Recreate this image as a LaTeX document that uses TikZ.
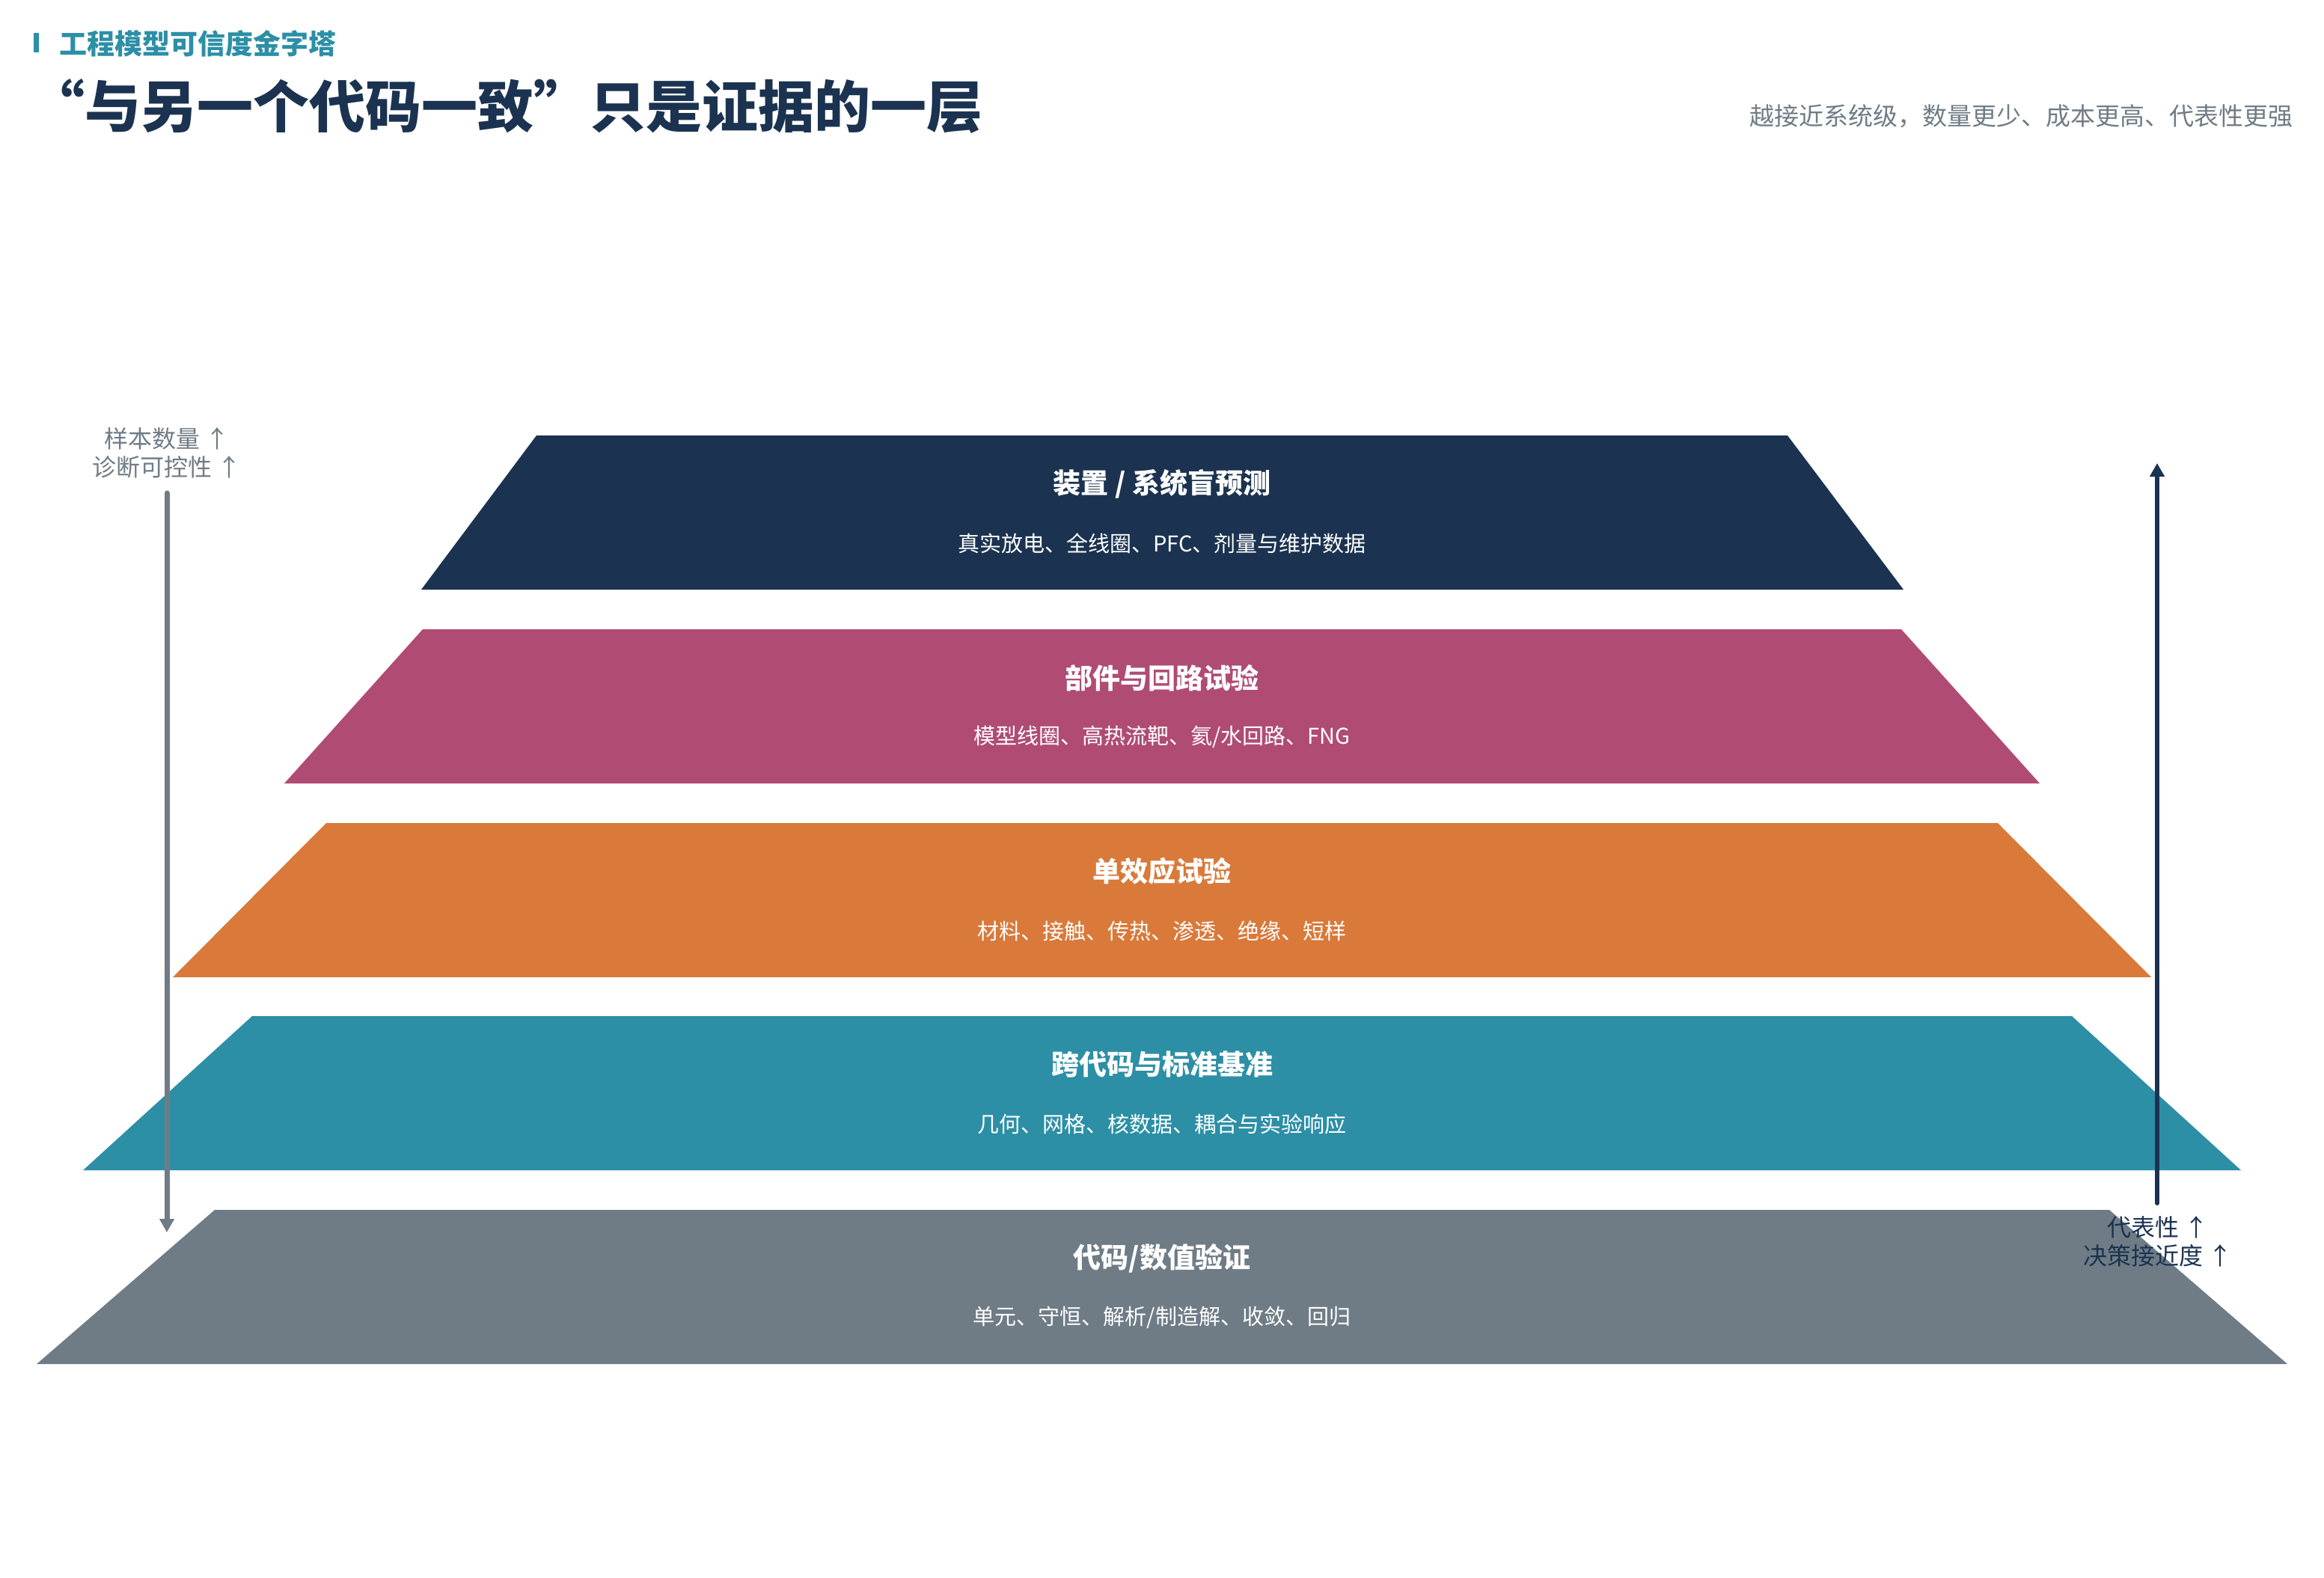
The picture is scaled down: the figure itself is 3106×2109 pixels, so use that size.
\documentclass[tikz,border=0pt]{standalone}
\usepackage{fontspec}
\setmainfont{Noto Sans CJK SC}
\usetikzlibrary{arrows.meta}
\definecolor{cnavy}{HTML}{1B3350}
\definecolor{cmag}{HTML}{B04B74}
\definecolor{corange}{HTML}{D9793A}
\definecolor{cteal}{HTML}{2C8FA6}
\definecolor{cgray}{HTML}{6F7C86}
\tikzset{
  tiertitle/.style={text=white,font=\fontsize{18.5}{22}\selectfont\bfseries,inner sep=0pt},
  tiersub/.style={text=white,font=\fontsize{14.5}{18}\selectfont,inner sep=0pt},
  sidelabel/.style={align=center,font=\fontsize{16}{19}\selectfont,inner sep=0pt},
  axisarrow/.style={line width=3.5pt,line cap=round,-{Triangle[width=9.5pt,length=9pt]}}
}
\begin{document}
\begin{tikzpicture}[x=0.5pt,y=-0.5pt]
\useasboundingbox (0,0) rectangle (3106,2109);
% header
\fill[cteal] (45,44) rectangle (52,70);
\node[anchor=west,text=cteal,font=\fontsize{18.5}{22}\selectfont\bfseries,inner sep=0pt] (kicker) at (79,58) {工程模型可信度金字塔};
\node[anchor=west,text=cnavy,font=\fontsize{37.5}{44}\selectfont\bfseries,inner sep=0pt] (title) at (38,142) {“与另一个代码一致”只是证据的一层};
\node[anchor=east,text=cgray,font=\fontsize{16.5}{20}\selectfont,inner sep=0pt] (note) at (3065,155) {越接近系统级，数量更少、成本更高、代表性更强};
% tiers
\fill[cnavy] (717,582) -- (2389,582) -- (2544,788) -- (563,788) -- cycle;
\fill[cmag] (565,841) -- (2541,841) -- (2726,1047) -- (380,1047) -- cycle;
\fill[corange] (436,1100) -- (2670,1100) -- (2875,1306) -- (231,1306) -- cycle;
\fill[cteal] (337,1358) -- (2769,1358) -- (2995,1564) -- (111,1564) -- cycle;
\fill[cgray] (287,1617) -- (2819,1617) -- (3057,1823) -- (49,1823) -- cycle;
% tier texts
\node[tiertitle] (t1) at (1553,647) {装置 / 系统盲预测};
\node[tiersub] (s1) at (1553,726) {真实放电、全线圈、PFC、剂量与维护数据};
\node[tiertitle] (t2) at (1553,906) {部件与回路试验};
\node[tiersub] (s2) at (1553,985) {模型线圈、高热流靶、氦/水回路、FNG};
\node[tiertitle] (t3) at (1553,1164) {单效应试验};
\node[tiersub] (s3) at (1553,1244) {材料、接触、传热、渗透、绝缘、短样};
\node[tiertitle] (t4) at (1553,1423) {跨代码与标准基准};
\node[tiersub] (s4) at (1553,1502) {几何、网格、核数据、耦合与实验响应};
\node[tiertitle] (t5) at (1553,1682) {代码/数值验证};
\node[tiersub] (s5) at (1553,1761) {单元、守恒、解析/制造解、收敛、回归};
% side labels and arrows
\node[sidelabel,text=cgray] (ll) at (223,605) {样本数量 ↑\\诊断可控性 ↑};
\node[sidelabel,text=cnavy] (rl) at (2884,1659) {代表性 ↑\\决策接近度 ↑};
\coordinate (la1) at (223,659);
\coordinate (la2) at (223,1647);
\coordinate (ra1) at (2883,1608);
\coordinate (ra2) at (2883,619);
\draw[axisarrow,cgray] (la1) -- (la2);
\draw[axisarrow,cnavy,line width=3pt] (ra1) -- (ra2);
\end{tikzpicture}
\end{document}
